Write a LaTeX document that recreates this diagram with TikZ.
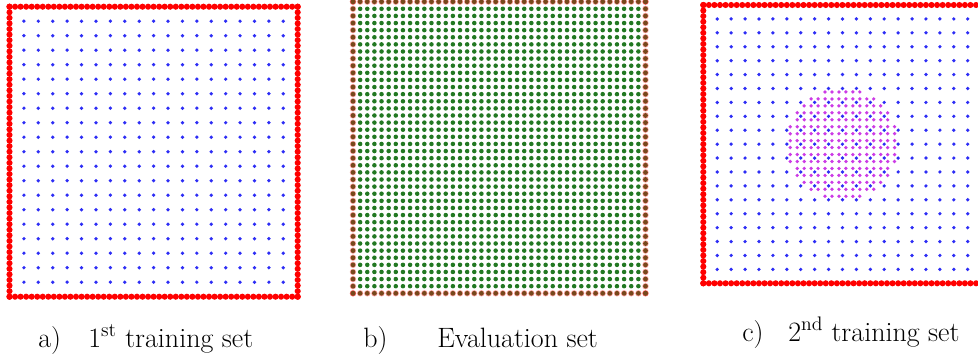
\documentclass[tikz,border=0pt]{standalone}
\definecolor{ptred}{RGB}{255,0,0}
\definecolor{ptblue}{RGB}{45,45,245}
\definecolor{ptgreen}{RGB}{34,120,34}
\definecolor{ptbrown}{RGB}{120,72,28}
\definecolor{ptmag}{RGB}{204,60,230}
\tikzset{
  lbl/.style={inner sep=0pt, anchor=base west, font=\rmfamily\fontsize{21}{25}\selectfont},
  reddot/.style={fill=ptred},
  bluedot/.style={fill=ptblue},
  greendot/.style={fill=ptgreen},
  browndot/.style={fill=ptbrown},
  halo/.style={fill=ptred, opacity=0.35},
  magdot/.style={fill=ptmag}
}
\begin{document}
\begin{tikzpicture}[x=0.75pt,y=-0.75pt]
\useasboundingbox (0,0) rectangle (978,360);
\clip (0,0) rectangle (978,360);
% ---------- panel a ----------
\def\ax{9.5}\def\ay{6.7}\def\aw{288.2}\def\ah{290}
\foreach \i in {1,...,19}{
  \foreach \j in {1,...,19}{
    \fill[bluedot] ({\ax+\aw*0.05*\i},{\ay+\ah*0.05*\j}) circle (1.4pt);
  }
}
\foreach \k in {0,...,52}{
  \fill[reddot] ({\ax+\aw*\k/52},\ay) circle (2.3pt);
  \fill[reddot] ({\ax+\aw*\k/52},{\ay+\ah}) circle (2.3pt);
  \fill[reddot] (\ax,{\ay+\ah*\k/52}) circle (2.3pt);
  \fill[reddot] ({\ax+\aw},{\ay+\ah*\k/52}) circle (2.3pt);
}
% ---------- panel b ----------
\def\bx{353}\def\by{1.7}\def\bw{292.5}\def\bh{291.6}
\foreach \i in {1,...,40}{
  \foreach \j in {1,...,40}{
    \fill[greendot] ({\bx+\bw*\i/41},{\by+\bh*\j/41}) circle (1.7pt);
  }
}
\foreach \k in {0,...,41}{
  \fill[halo] ({\bx+\bw*\k/41},\by) circle (2.4pt);
  \fill[halo] ({\bx+\bw*\k/41},{\by+\bh}) circle (2.4pt);
  \fill[halo] (\bx,{\by+\bh*\k/41}) circle (2.4pt);
  \fill[halo] ({\bx+\bw},{\by+\bh*\k/41}) circle (2.4pt);
  \fill[browndot] ({\bx+\bw*\k/41},\by) circle (1.8pt);
  \fill[browndot] ({\bx+\bw*\k/41},{\by+\bh}) circle (1.8pt);
  \fill[browndot] (\bx,{\by+\bh*\k/41}) circle (1.8pt);
  \fill[browndot] ({\bx+\bw},{\by+\bh*\k/41}) circle (1.8pt);
}
% ---------- panel c ----------
\def\cx{703.3}\def\cy{5}\def\cw{278.3}
\foreach \i in {1,...,19}{
  \foreach \j in {1,...,19}{
    \fill[bluedot] ({\cx+\cw*0.05*\i},{\cy+\cw*0.05*\j}) circle (1.4pt);
  }
}
\foreach \i in {11,...,28}{
  \foreach \j in {11,...,28}{
    \pgfmathtruncatemacro\dd{(2*\i-39)*(2*\i-39)+(2*\j-39)*(2*\j-39)}
    \ifnum\dd<256
      \fill[magdot] ({\cx+\cw*0.0125*(2*\i+1)},{\cy+\cw*0.0125*(2*\j+1)}) circle (1.4pt);
    \fi
  }
}
\foreach \k in {0,...,50}{
  \fill[reddot] ({\cx+\cw*\k/50},\cy) circle (2.3pt);
  \fill[reddot] ({\cx+\cw*\k/50},{\cy+\cw}) circle (2.3pt);
  \fill[reddot] (\cx,{\cy+\cw*\k/50}) circle (2.3pt);
  \fill[reddot] ({\cx+\cw},{\cy+\cw*\k/50}) circle (2.3pt);
}
% ---------- labels ----------
\node[lbl] (la) at (38,347) {a)};
\node[lbl] (ta) at (88,347) {1\textsuperscript{st} training set};
\node[lbl] (lb) at (363,347) {b)};
\node[lbl] (tb) at (437,347) {Evaluation set};
\node[lbl] (lc) at (742,341) {c)};
\node[lbl] (tc) at (788,341) {2\textsuperscript{nd} training set};
\end{tikzpicture}
\end{document}
